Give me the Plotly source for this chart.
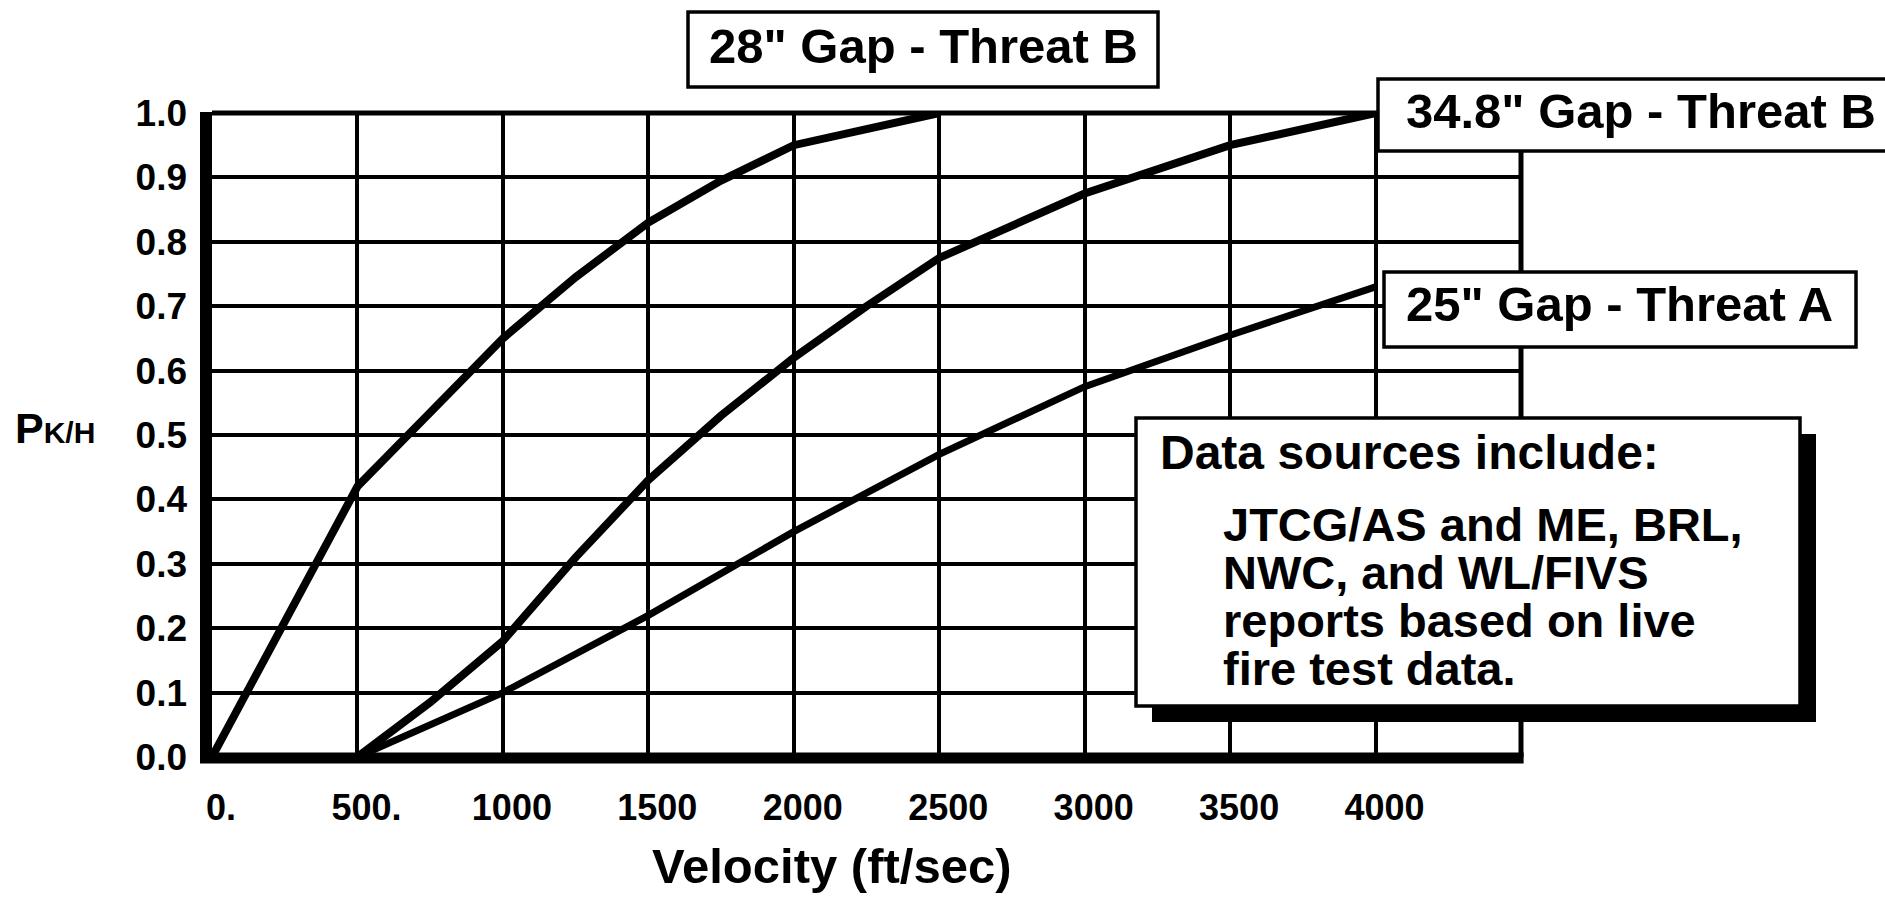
import plotly.graph_objects as go

# Kill probability given a hit vs. striking velocity, one curve per gap/threat case
velocity_28 = [0, 500, 750, 1000, 1250, 1500, 1750, 2000, 2500]
pk_28 = [0.0, 0.42, 0.535, 0.65, 0.745, 0.83, 0.895, 0.95, 1.0]

velocity_348 = [500, 750, 1000, 1250, 1500, 1750, 2000, 2250, 2500, 3000, 3500, 4000]
pk_348 = [0.0, 0.085, 0.18, 0.31, 0.43, 0.53, 0.62, 0.70, 0.775, 0.875, 0.95, 1.0]

velocity_25 = [500, 1000, 1500, 2000, 2500, 3000, 3500, 4000]
pk_25 = [0.0, 0.10, 0.22, 0.35, 0.47, 0.575, 0.655, 0.73]

x_tickvals = [0, 500, 1000, 1500, 2000, 2500, 3000, 3500, 4000]
x_ticktext = ["0.", "500.", "1000", "1500", "2000", "2500", "3000", "3500", "4000"]
y_tickvals = [0.0, 0.1, 0.2, 0.3, 0.4, 0.5, 0.6, 0.7, 0.8, 0.9, 1.0]
y_ticktext = ["0.0", "0.1", "0.2", "0.3", "0.4", "0.5", "0.6", "0.7", "0.8", "0.9", "1.0"]

curve_labels = ['28" Gap - Threat B', '34.8" Gap - Threat B', '25" Gap - Threat A']
note_title = "Data sources include:"
note_lines = ["JTCG/AS and ME, BRL,", "NWC, and WL/FIVS",
              "reports based on live", "fire test data."]

FONT = "Liberation Sans, Arial, Helvetica, sans-serif"
W, H = 1885, 898
L, R, T, B = 212, 1521, 113, 757   # plot area edges in page pixels


def px(x):
    return (x - L) / (R - L)


def py(y):
    return (B - y) / (B - T)


fig = go.Figure()
for xs, ys, w in [(velocity_28, pk_28, 8), (velocity_348, pk_348, 8), (velocity_25, pk_25, 7)]:
    fig.add_trace(go.Scatter(x=xs, y=ys, mode="lines",
                             line=dict(color="black", width=w),
                             cliponaxis=False, showlegend=False, hoverinfo="skip"))

shapes = []
# frame: heavy left and bottom, lighter top and right
shapes.append(dict(type="line", xref="paper", yref="paper", x0=0, x1=1, y0=1, y1=1,
                   line=dict(color="black", width=5)))
shapes.append(dict(type="line", xref="paper", yref="paper", x0=1, x1=1, y0=0, y1=1,
                   line=dict(color="black", width=5)))
shapes.append(dict(type="line", xref="paper", yref="paper", x0=px(206), x1=px(206),
                   y0=py(763), y1=py(112), line=dict(color="black", width=12)))
shapes.append(dict(type="line", xref="paper", yref="paper", x0=px(200), x1=1.002,
                   y0=py(758), y1=py(758), line=dict(color="black", width=11)))


def box(x0, y0, x1, y1, lw=3.5):
    return dict(type="rect", xref="paper", yref="paper",
                x0=px(x0), x1=px(x1), y0=py(y1), y1=py(y0),
                fillcolor="white", line=dict(color="black", width=lw))


shapes.append(box(688, 12, 1158, 87))
shapes.append(box(1378, 79, 1900, 151))
shapes.append(box(1384, 272, 1856, 347))
# drop shadow behind the data-source note
shapes.append(dict(type="rect", xref="paper", yref="paper",
                   x0=px(1152), x1=px(1816), y0=py(722), y1=py(434),
                   fillcolor="black", line=dict(width=0)))
shapes.append(box(1136, 418, 1800, 706))

ann = []


def text(s, x, y, size, xanchor="left"):
    ann.append(dict(text=s, xref="paper", yref="paper", x=px(x), y=py(y),
                    xanchor=xanchor, yanchor="middle", showarrow=False,
                    font=dict(family=FONT, size=size, color="black", weight="bold")))


text(curve_labels[0], 923, 46, 49, "center")
text(curve_labels[1], 1404, 111, 49)
text(curve_labels[2], 1404, 304, 49)
text(note_title, 1158, 452, 48)
for s, base in zip(note_lines, [541, 589, 637, 685]):
    text(s, 1221, base - 17, 47)
text("Velocity (ft/sec)", 831, 866, 49, "center")
text("P<span style='font-size:30px'>K/H</span>", 13, 428, 43)

axis_common = dict(showline=False, zeroline=False, showgrid=True,
                   gridcolor="black", gridwidth=4, ticks="",
                   tickfont=dict(family=FONT, size=36, color="black", weight="bold"))

fig.update_layout(
    width=W, height=H, autosize=False,
    margin=dict(l=L, r=W - R, t=T, b=H - B, pad=0),
    paper_bgcolor="white", plot_bgcolor="white",
    xaxis=dict(range=[0, 4500], tickmode="array", tickvals=x_tickvals,
               ticktext=x_ticktext, ticklabelstandoff=26, ticklabelshift=9,
               **axis_common),
    yaxis=dict(range=[0, 1.0], tickmode="array", tickvals=y_tickvals,
               ticktext=y_ticktext, ticklabelstandoff=24, **axis_common),
    shapes=shapes, annotations=ann,
)
fig.update_yaxes(tickfont=dict(size=37))

fig.write_html("out.html")
